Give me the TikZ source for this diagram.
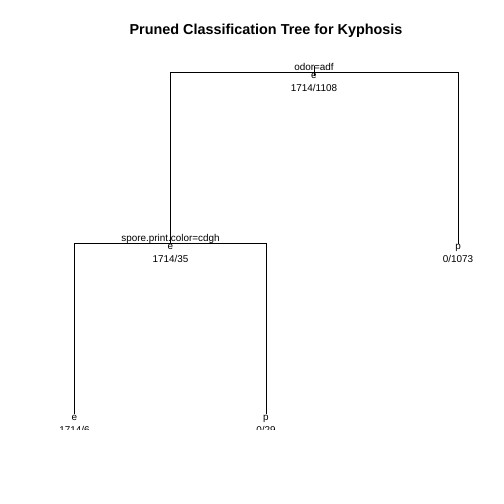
\documentclass[tikz,border=0pt]{standalone}
\usepackage{fontspec}
\setmainfont{Liberation Sans}
\usetikzlibrary{positioning}

\begin{document}
\begin{tikzpicture}[x=1pt, y=-1pt, line width=.75pt,
        lbl/.style={inner sep=0pt, font=\fontsize{9.9}{11}\selectfont, anchor=base},
        split/.style={lbl, yshift=1.8pt},
        cls/.style={lbl, yshift=-6pt},
        cnt/.style={lbl, yshift=-19pt}]
    \useasboundingbox (0,0) rectangle (504,504);

    % Titel.
    \node[font=\fontsize{14.4}{16}\bfseries\selectfont] (title) at (266,31) {Pruned Classification Tree for Kyphosis};

    \begin{scope}
        \clip (0,0) rectangle (504,429.5);

        % Knoten.
        \coordinate (root) at (314,72.5);
        \coordinate (n2) at (170.5,243.5);
        \coordinate (n3) at (458,243.5);
        \coordinate (n4) at (74.5,414);
        \coordinate (n5) at (266,414);
        \coordinate (stubtop) at (314,66);
        \coordinate (stubbot) at (314,76);

        % Linien.
        \draw (n2) |- (root) -| (n3);
        \draw (n4) |- (n2) -| (n5);
        \draw (stubtop) -- (stubbot);

        % Beschriftung.
        \node[split] (root-s) at (root) {odor=adf};
        \node[cls] (root-c) at (root) {e};
        \node[cnt] (root-n) at (root) {1714/1108};

        \node[split] (n2-s) at (n2) {spore.print.color=cdgh};
        \node[cls] (n2-c) at (n2) {e};
        \node[cnt] (n2-n) at (n2) {1714/35};

        \node[cls] (n3-c) at (n3) {p};
        \node[cnt] (n3-n) at (n3) {0/1073};

        \node[cls] (n4-c) at (n4) {e};
        \node[cnt] (n4-n) at (n4) {1714/6};

        \node[cls] (n5-c) at (n5) {p};
        \node[cnt] (n5-n) at (n5) {0/29};
    \end{scope}
\end{tikzpicture}
\end{document}
